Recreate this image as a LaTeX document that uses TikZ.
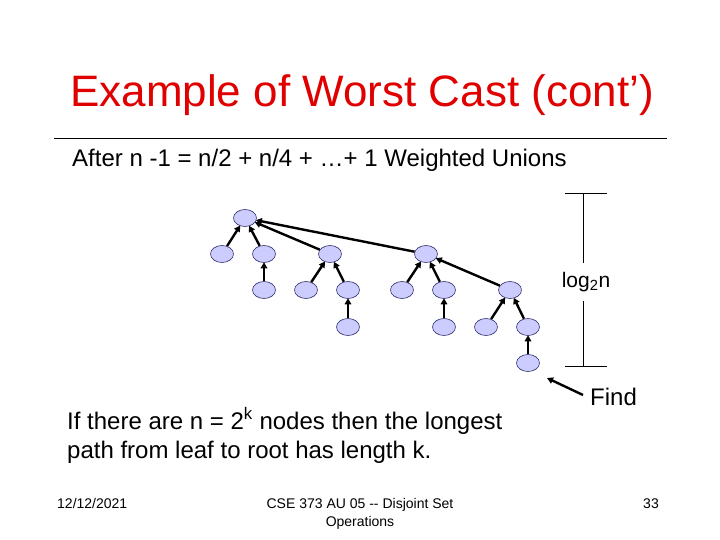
\documentclass[tikz,border=0pt]{standalone}
\usepackage{fontspec}
\setmainfont{Liberation Sans}
\usetikzlibrary{arrows.meta,shapes.geometric}
\definecolor{titlered}{RGB}{224,0,0}
\definecolor{nodefill}{RGB}{204,204,255}
\definecolor{nodeline}{RGB}{50,50,110}
\begin{document}
\begin{tikzpicture}[x=1pt,y=-1pt,
  tn/.style={ellipse, draw=nodeline, fill=nodefill, minimum width=23pt, minimum height=17pt, inner sep=0pt, line width=0.6pt},
  up/.style={line width=2.4pt, -{Triangle[length=6pt,width=6.5pt]}, shorten >=-0.5pt},
  txt/.style={inner sep=0pt, anchor=base west},
  big/.style={font=\fontsize{24}{29}\selectfont},
  mid/.style={font=\fontsize{21}{25}\selectfont},
  small/.style={font=\fontsize{14}{17}\selectfont}]
\useasboundingbox (0,0) rectangle (720,540);
\fill[white] (0,0) rectangle (720,540);
% title
\node[txt, text=titlered, font=\fontsize{44}{52}\selectfont] (title) at (70,107) {Example of Worst Cast (cont’)};
\coordinate (rl) at (54,138);
\coordinate (rr) at (667,138);
\draw[line width=0.8pt] (rl) -- (rr);
\node[txt, big] (after) at (72,167) {After n -1 = n/2 + n/4 + …+ 1 Weighted Unions};
% tree
\node[tn] (R) at (245,218) {};
\node[tn] (A) at (222,254) {};
\node[tn] (B) at (264,254) {};
\node[tn] (B1) at (264,290) {};
\node[tn] (C) at (330,254) {};
\node[tn] (C1) at (306,290) {};
\node[tn] (C2) at (348,290) {};
\node[tn] (C21) at (348,327) {};
\node[tn] (D) at (426,254) {};
\node[tn] (D1) at (402,290) {};
\node[tn] (D2) at (444,290) {};
\node[tn] (D21) at (444,327) {};
\node[tn] (E) at (510,290) {};
\node[tn] (E1) at (486,327) {};
\node[tn] (E2) at (528,327) {};
\node[tn] (E21) at (528,363) {};
\draw[up] (A) -- (R);
\draw[up] (B) -- (R);
\draw[up] (B1) -- (B);
\draw[up] (C) -- (R);
\draw[up] (C1) -- (C);
\draw[up] (C2) -- (C);
\draw[up] (C21) -- (C2);
\draw[up] (D) -- (R);
\draw[up] (D1) -- (D);
\draw[up] (D2) -- (D);
\draw[up] (D21) -- (D2);
\draw[up] (E) -- (D);
\draw[up] (E1) -- (E);
\draw[up] (E2) -- (E);
\draw[up] (E21) -- (E2);
% height bracket
\coordinate (bt) at (583,193);
\coordinate (bb) at (583,366);
\coordinate (btl) at (565,193);
\coordinate (btr) at (607,193);
\coordinate (bbl) at (565,366);
\coordinate (bbr) at (607,366);
\coordinate (bm1) at (583,263);
\coordinate (bm2) at (583,301);
\node[mid, inner sep=0pt] (log) at (586,282) {log\textsubscript{2}n};
\draw[line width=0.8pt] (btl) -- (btr);
\draw[line width=0.8pt] (bbl) -- (bbr);
\draw[line width=0.8pt] (bt) -- (bm1);
\draw[line width=0.8pt] (bm2) -- (bb);
% find
\node[txt, big] (find) at (590,405) {Find};
\coordinate (fs) at (583,395);
\coordinate (fe) at (547,378);
\draw[line width=2.4pt, -{Triangle[length=6pt,width=6.5pt]}] (fs) -- (fe);
% statement
\node[txt, big] (if1) at (67,429) {If there are n = 2\textsuperscript{k} nodes then the longest};
\node[txt, big] (if2) at (67,458) {path from leaf to root has length k.};
% footer
\node[txt, small] (date) at (57,508) {12/12/2021};
\node[inner sep=0pt, anchor=base, small] (f1) at (360,508) {CSE 373 AU 05 {-}{-} Disjoint Set};
\node[inner sep=0pt, anchor=base, small] (f2) at (360,526) {Operations};
\node[inner sep=0pt, anchor=base east, small] (pg) at (659,508) {33};
\end{tikzpicture}
\end{document}
